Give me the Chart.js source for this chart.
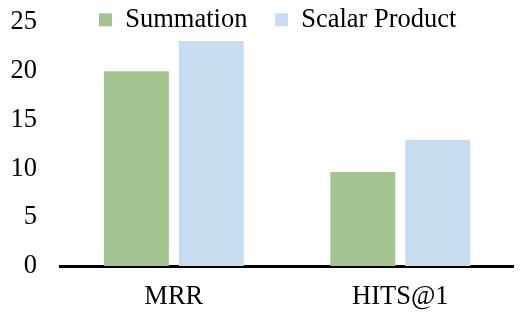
<!DOCTYPE html>
<html>
<head>
<meta charset="utf-8">
<script src="https://cdn.jsdelivr.net/npm/chart.js@4"></script>
<style>
html,body{margin:0;padding:0;background:#fff;}
#wrap{width:520px;height:315px;position:relative;}
</style>
</head>
<body>
<div id="wrap"><canvas id="c" width="520" height="315"></canvas></div>
<script>
const categories = ["MRR", "HITS@1"];
const seriesNames = ["Summation", "Scalar Product"];
const summationValues = [20.0, 9.65];
const scalarProductValues = [23.1, 12.95];
const seriesColors = ['#A3C490', '#C9DDF1'];
const yTickMax = 25;
const yTickStep = 5;

const FONT = "'Liberation Serif', 'Times New Roman', serif";
const FS = 26.5;

// Legend drawn at the top, overlapping the plot area as in the reference
const topLegend = {
  id: 'topLegend',
  afterDraw(chart) {
    const ctx = chart.ctx;
    ctx.save();
    ctx.font = FS + 'px ' + FONT;
    ctx.textBaseline = 'middle';
    ctx.textAlign = 'left';
    let x = 99;
    const boxY = 13.3, box = 13, gap = FS / 2, pad = 27.5, textY = 19.8;
    chart.data.datasets.forEach(ds => {
      ctx.fillStyle = ds.backgroundColor;
      ctx.fillRect(x, boxY, box, box);
      ctx.fillStyle = '#000';
      const tx = x + box + gap;
      ctx.fillText(ds.label, tx, textY);
      x = tx + ctx.measureText(ds.label).width + pad;
    });
    ctx.restore();
  }
};

new Chart(document.getElementById('c'), {
  type: 'bar',
  data: {
    labels: categories,
    datasets: [
      { label: seriesNames[0], data: summationValues, backgroundColor: seriesColors[0], borderWidth: 0 },
      { label: seriesNames[1], data: scalarProductValues, backgroundColor: seriesColors[1], borderWidth: 0 }
    ]
  },
  options: {
    responsive: false,
    animation: false,
    devicePixelRatio: 1,
    layout: { padding: { top: 22.5, left: 10.6, right: 6.5, bottom: 1.6 } },
    datasets: { bar: { barPercentage: 0.867, categoryPercentage: 0.662 } },
    plugins: {
      legend: { display: false },
      tooltip: { enabled: false }
    },
    scales: {
      x: {
        grid: { display: false, drawTicks: false },
        border: { display: true, color: '#000', width: 3 },
        ticks: { color: '#000', padding: 15.6, font: { family: FONT, size: FS } },
        afterFit(scale) { scale.height = 47.4; scale.paddingLeft = 0; scale.paddingRight = 0; }
      },
      y: {
        min: 0, max: yTickMax,
        grid: { display: false, drawTicks: false },
        border: { display: false },
        ticks: { stepSize: yTickStep, color: '#000', padding: 23.5, font: { family: FONT, size: FS } },
        afterFit(scale) { scale.width = 50; scale.paddingTop = 0; scale.paddingBottom = 0; }
      }
    }
  },
  plugins: [topLegend]
});
</script>
</body>
</html>
